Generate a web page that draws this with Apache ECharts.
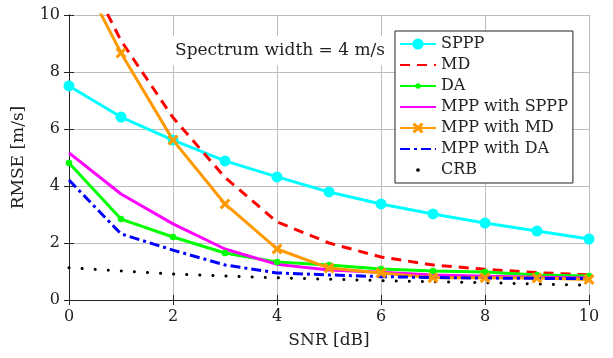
<!DOCTYPE html>
<html>
<head>
<meta charset="utf-8">
<script src="https://cdn.jsdelivr.net/npm/echarts@6/dist/echarts.min.js"></script>
<style>
  html, body { margin: 0; padding: 0; background: #fff; }
  #chart { width: 613px; height: 358px; }
</style>
</head>
<body>
<div id="chart"></div>
<script>
// SNR sweep (dB)
const snr = [0, 1, 2, 3, 4, 5, 6, 7, 8, 9, 10];

// RMSE of each estimator (m/s)
const sppp    = [7.51, 6.42, 5.61, 4.88, 4.32, 3.79, 3.37, 3.02, 2.70, 2.42, 2.14];
const md      = [12.7, 9.10, 6.40, 4.30, 2.74, 2.00, 1.51, 1.23, 1.08, 0.96, 0.88];
const da      = [4.81, 2.84, 2.21, 1.65, 1.33, 1.23, 1.09, 1.02, 0.98, 0.88, 0.84];
const mppSppp = [5.16, 3.72, 2.67, 1.79, 1.25, 1.05, 0.97, 0.88, 0.83, 0.80, 0.77];
const mppMd   = [12.2, 8.67, 5.61, 3.37, 1.79, 1.12, 0.95, 0.78, 0.78, 0.77, 0.72];
const mppDa   = [4.21, 2.32, 1.75, 1.23, 0.95, 0.88, 0.82, 0.79, 0.77, 0.76, 0.75];
const crb     = [1.13, 1.02, 0.91, 0.84, 0.78, 0.73, 0.68, 0.64, 0.61, 0.56, 0.52];

const xTicks = [0, 2, 4, 6, 8, 10];
const yTicks = [0, 2, 4, 6, 8, 10];

const FONT = 'DejaVu Serif';
const pairs = arr => snr.map((x, i) => [x, arr[i]]);

// Marker shapes. The leading move-to points pad the bounding box so that the
// filled dot ends up smaller than the nominal symbol size.
const crossPath = 'path://M2,0L5,3L8,0L10,2L7,5L10,8L8,10L5,7L2,10L0,8L3,5L0,2Z';
const smallDot  = 'path://M0,0M16,16M8,4A4,4,0,1,1,8,12A4,4,0,1,1,8,4Z';
const tinyDot   = 'path://M0,0M12,12M6,4A2,2,0,1,1,6,8A2,2,0,1,1,6,4Z';

const hiddenMarker = { itemStyle: { opacity: 0 } };

const chart = echarts.init(document.getElementById('chart'), null, { renderer: 'canvas' });

const axisCommon = {
  type: 'value',
  min: 0,
  max: 10,
  interval: 2,
  axisLine: { show: true, lineStyle: { color: '#222', width: 1 } },
  axisTick: { show: true, inside: true, length: 5, lineStyle: { color: '#222' } }
};

chart.setOption({
  animation: false,
  backgroundColor: '#fff',
  title: {
    text: 'Spectrum width = 4 m/s',
    left: 169,
    top: 36,
    padding: [6, 6, 6, 6],
    backgroundColor: '#fff',
    textStyle: { fontFamily: FONT, fontSize: 17, fontWeight: 'normal', color: '#222' }
  },
  grid: { left: 69, right: 24, top: 15, bottom: 58, containLabel: false },
  legend: {
    orient: 'vertical',
    left: 395,
    top: 31,
    backgroundColor: '#fff',
    borderColor: '#222',
    borderWidth: 1,
    borderRadius: 0,
    padding: [5, 5, 5, 4],
    itemWidth: 36,
    itemHeight: 14,
    itemGap: 5,
    textStyle: { fontFamily: FONT, fontSize: 16, color: '#222' },
    data: [
      { name: 'SPPP' },
      Object.assign({ name: 'MD' }, hiddenMarker),
      { name: 'DA' },
      Object.assign({ name: 'MPP with SPPP' }, hiddenMarker),
      { name: 'MPP with MD' },
      Object.assign({ name: 'MPP with DA' }, hiddenMarker),
      { name: 'CRB', lineStyle: { opacity: 0 } }
    ]
  },
  xAxis: [
    Object.assign({}, axisCommon, {
      position: 'bottom',
      name: 'SNR [dB]',
      nameLocation: 'middle',
      nameGap: 32,
      nameTextStyle: { fontFamily: FONT, fontSize: 17, color: '#222' },
      axisLabel: {
        fontFamily: FONT, fontSize: 16, color: '#222', margin: 9,
        customValues: xTicks
      },
      splitLine: { show: true, lineStyle: { color: '#bdbdbd', width: 1 } }
    }),
    Object.assign({}, axisCommon, {
      position: 'top',
      axisLabel: { show: false },
      splitLine: { show: false }
    })
  ],
  yAxis: [
    Object.assign({}, axisCommon, {
      position: 'left',
      name: 'RMSE [m/s]',
      nameLocation: 'middle',
      nameGap: 42,
      nameTextStyle: { fontFamily: FONT, fontSize: 17, color: '#222' },
      axisLabel: {
        fontFamily: FONT, fontSize: 16, color: '#222', margin: 9,
        customValues: yTicks
      },
      splitLine: { show: true, lineStyle: { color: '#bdbdbd', width: 1 } }
    }),
    Object.assign({}, axisCommon, {
      position: 'right',
      axisLabel: { show: false },
      splitLine: { show: false }
    })
  ],
  series: [
    {
      name: 'SPPP', type: 'line', data: pairs(sppp),
      symbol: 'circle', symbolSize: 11,
      itemStyle: { color: '#00ffff' },
      lineStyle: { color: '#00ffff', width: 3 }
    },
    {
      name: 'MD', type: 'line', data: pairs(md),
      symbol: 'none',
      itemStyle: { color: '#ff0000' },
      lineStyle: { color: '#ff0000', width: 3, type: [10, 7] }
    },
    {
      name: 'DA', type: 'line', data: pairs(da),
      symbol: smallDot, symbolSize: 13,
      itemStyle: { color: '#00ff00' },
      lineStyle: { color: '#00ff00', width: 3 }
    },
    {
      name: 'MPP with SPPP', type: 'line', data: pairs(mppSppp),
      symbol: 'none',
      itemStyle: { color: '#ff00ff' },
      lineStyle: { color: '#ff00ff', width: 3 }
    },
    {
      name: 'MPP with MD', type: 'line', data: pairs(mppMd),
      symbol: crossPath, symbolSize: 11,
      itemStyle: { color: '#ff9900' },
      lineStyle: { color: '#ff9900', width: 3 }
    },
    {
      name: 'MPP with DA', type: 'line', data: pairs(mppDa),
      symbol: 'none',
      itemStyle: { color: '#0000ff' },
      lineStyle: { color: '#0000ff', width: 3, type: [10, 4, 3, 4] }
    },
    {
      name: 'CRB', type: 'line', data: pairs(crb),
      symbol: tinyDot, showSymbol: false,
      itemStyle: { color: '#000' },
      lineStyle: { color: '#000', width: 3, type: [0.1, 13], cap: 'round' }
    }
  ]
});
</script>
</body>
</html>
